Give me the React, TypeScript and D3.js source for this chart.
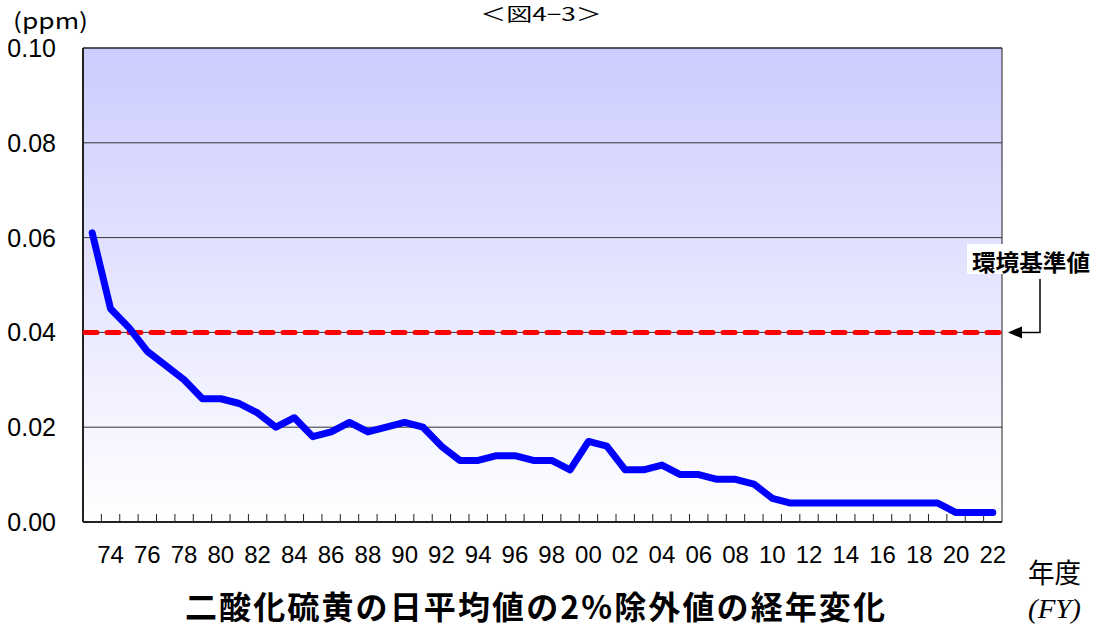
import React from 'react';
import * as d3 from 'd3';

const years: number[] = [
  1973, 1974, 1975, 1976, 1977, 1978, 1979, 1980, 1981, 1982,
  1983, 1984, 1985, 1986, 1987, 1988, 1989, 1990, 1991, 1992,
  1993, 1994, 1995, 1996, 1997, 1998, 1999, 2000, 2001, 2002,
  2003, 2004, 2005, 2006, 2007, 2008, 2009, 2010, 2011, 2012,
  2013, 2014, 2015, 2016, 2017, 2018, 2019, 2020, 2021, 2022,
];

const so2: number[] = [
  0.061, 0.045, 0.041, 0.036, 0.033, 0.030, 0.026, 0.026, 0.025, 0.023,
  0.020, 0.022, 0.018, 0.019, 0.021, 0.019, 0.020, 0.021, 0.020, 0.016,
  0.013, 0.013, 0.014, 0.014, 0.013, 0.013, 0.011, 0.017, 0.016, 0.011,
  0.011, 0.012, 0.010, 0.010, 0.009, 0.009, 0.008, 0.005, 0.004, 0.004,
  0.004, 0.004, 0.004, 0.004, 0.004, 0.004, 0.004, 0.002, 0.002, 0.002,
];

const yTicks: number[] = [0, 0.02, 0.04, 0.06, 0.08, 0.1];
const yTickLabels: string[] = ['0.00', '0.02', '0.04', '0.06', '0.08', '0.10'];
const xLabelYears: number[] = [
  1974, 1976, 1978, 1980, 1982, 1984, 1986, 1988, 1990, 1992, 1994, 1996,
  1998, 2000, 2002, 2004, 2006, 2008, 2010, 2012, 2014, 2016, 2018, 2020, 2022,
];
const standardValue = 0.04;

const figTitle = '＜図4−3＞';
const unitLabel = '(ppm)';
const standardLabel = '環境基準値';
const xAxisLabelJa = '年度';
const xAxisLabelEn = '(FY)';
const chartTitle = '二酸化硫黄の日平均値の2%除外値の経年変化';

export default function App() {
  const W = 1098;
  const H = 627;
  const L = 83, R = 1002, T = 48, B = 522;
  const x = d3.scaleBand<string>().domain(years.map(String)).range([L, R]).padding(0);
  const y = d3.scaleLinear().domain([0, 0.1]).range([B, T]);
  const cx = (yr: number) => (x(String(yr)) as number) + x.bandwidth() / 2;
  const line = d3
    .line<number>()
    .x((_, i) => cx(years[i]))
    .y((d) => y(d));
  const numFont = '"Liberation Sans", Arial, sans-serif';
  const jaFont = '"Noto Sans CJK JP", sans-serif';
  const ys = y(standardValue);

  return (
    <svg width={W} height={H} style={{ position: 'absolute', left: 0, top: 0 }}>
      <defs>
        <linearGradient id="bg" x1="0" y1="0" x2="0" y2="1">
          <stop offset="0%" stopColor="#ccccff" />
          <stop offset="100%" stopColor="#ffffff" />
        </linearGradient>
      </defs>
      <rect x={0} y={0} width={W} height={H} fill="#ffffff" />
      <rect x={L} y={T} width={R - L} height={B - T} fill="url(#bg)" />
      {/* gridlines */}
      {yTicks.filter((t) => t > 0 && t < 0.1).map((t) => (
        <line key={t} x1={L} x2={R} y1={y(t)} y2={y(t)} stroke="#333" strokeWidth={1} />
      ))}
      {/* border */}
      <line x1={L} x2={R} y1={T} y2={T} stroke="#222" strokeWidth={1.5} />
      <line x1={R} x2={R} y1={T} y2={B} stroke="#222" strokeWidth={1} />
      <line x1={L} x2={L} y1={T} y2={B} stroke="#222" strokeWidth={2} />
      <line x1={L} x2={R} y1={B} y2={B} stroke="#222" strokeWidth={2} />
      {/* x ticks at category boundaries */}
      {years.slice(1).map((yr) => (
        <line key={yr} x1={x(String(yr))} x2={x(String(yr))} y1={B} y2={B - 8} stroke="#222" strokeWidth={1} />
      ))}
      {/* y labels */}
      {yTicks.map((t, i) => (
        <text key={t} x={56} y={y(t)} dy="0.36em" textAnchor="end" fontFamily={numFont} fontSize={25} fill="#000">
          {yTickLabels[i]}
        </text>
      ))}
      {/* x labels */}
      {xLabelYears.map((yr) => (
        <text key={yr} x={cx(yr)} y={563} textAnchor="middle" fontFamily={numFont} fontSize={24} fill="#000">
          {String(yr).slice(2)}
        </text>
      ))}
      {/* standard line */}
      <line x1={L + 2} x2={R} y1={ys} y2={ys} stroke="#ff0000" strokeWidth={5} strokeDasharray="12 10" strokeLinecap="round" />
      {/* data line */}
      <path d={line(so2) || ''} fill="none" stroke="#0000ff" strokeWidth={7} strokeLinejoin="round" strokeLinecap="round" />
      {/* standard label */}
      <rect x={967} y={244} width={131} height={30} fill="#ffffff" />
      <text x={972} y={271} textLength={118} lengthAdjust="spacingAndGlyphs" fontFamily={jaFont} fontWeight="bold" fontSize={23} fill="#000">{standardLabel}</text>
      <path d={`M1040,279 L1040,${ys} L1020,${ys}`} fill="none" stroke="#000" strokeWidth={1.5} />
      <polygon points={`1008,${ys} 1022,${ys - 6} 1022,${ys + 6}`} fill="#000" />
      {/* texts */}
      <text x={480} y={21} textLength={122} lengthAdjust="spacingAndGlyphs" fontFamily={jaFont} fontSize={18} fill="#000">{figTitle}</text>
      <text x={13} y={29} textLength={75} lengthAdjust="spacingAndGlyphs" fontFamily={jaFont} fontSize={22} fill="#000">{unitLabel}</text>
      <text x={1028} y={583} textLength={53} lengthAdjust="spacingAndGlyphs" fontFamily={jaFont} fontSize={27} fill="#000">{xAxisLabelJa}</text>
      <text x={1028} y={618} textLength={53} lengthAdjust="spacingAndGlyphs" fontFamily='"Liberation Serif", serif' fontStyle="italic" fontSize={27} fill="#000">{xAxisLabelEn}</text>
      <text x={185} y={619} textLength={700} lengthAdjust="spacing" fontFamily={jaFont} fontWeight="bold" fontSize={32} fill="#000">{chartTitle}</text>
    </svg>
  );
}
